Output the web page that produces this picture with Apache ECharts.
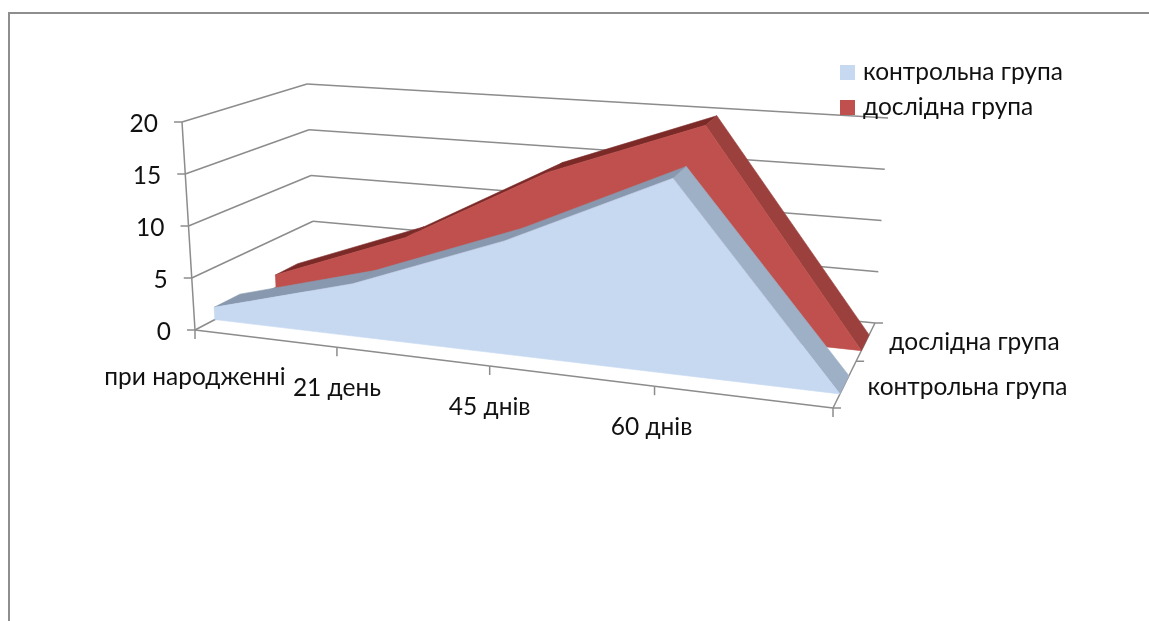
<!DOCTYPE html>
<html>
<head>
<meta charset="utf-8">
<script src="https://cdn.jsdelivr.net/npm/echarts@6/dist/echarts.min.js"></script>
<style>html,body{margin:0;padding:0;background:#fff}#c{width:1149px;height:621px}</style>
</head>
<body>
<div id="c"></div>
<script>
// Chart content
const categories = ['при народженні', '21 день', '45 днів', '60 днів', ''];
const seriesNames = ['контрольна група', 'дослідна група'];
const controlValues = [1.2, 5, 10.5, 17.6, 0];
const testValues = [1.3, 6.5, 14.3, 20, 0];
const valueTicks = [0, 5, 10, 15, 20];

// Box corners of the 3D scene in pixels, floor and ceiling
const FLOOR = { fl: [195, 330], fr: [833, 408], bl: [315, 267], br: [875, 323] };
const ROOF = { fl: [182, 122], fr: [851, 175], bl: [307, 84], br: [888, 118] };
const FORESHORTEN = 1.165;

const FONT = 'Lato, "Noto Sans", sans-serif';
const FONT_SIZE = 24.5;
const AXIS_COLOR = '#8c8c8c';
const TEXT_COLOR = '#111';

const lerp = (a, b, t) => [a[0] + (b[0] - a[0]) * t, a[1] + (b[1] - a[1]) * t];

// Perspective projection: x, y are fractions of the plot, d is the depth fraction
function project(x, y, d) {
  const u = x / (x + FORESHORTEN * (1 - x));
  const bottom = lerp(lerp(FLOOR.fl, FLOOR.fr, u), lerp(FLOOR.bl, FLOOR.br, u), d);
  const top = lerp(lerp(ROOF.fl, ROOF.fr, u), lerp(ROOF.bl, ROOF.br, u), d);
  return lerp(bottom, top, y);
}

// Turns a category/value pair into plot fractions through the hidden cartesian axes
function fractions(api, params, cat, val) {
  const p = api.coord([cat, val]);
  const cs = params.coordSys;
  return [(p[0] - cs.x) / cs.width, (cs.y + cs.height - p[1]) / cs.height];
}

function poly(points, fill) {
  return {
    type: 'polygon',
    shape: { points },
    style: { fill, stroke: fill, lineWidth: 0.6 }
  };
}
function line(a, b) {
  return {
    type: 'line',
    shape: { x1: a[0], y1: a[1], x2: b[0], y2: b[1] },
    style: { stroke: AXIS_COLOR, lineWidth: 1.5 }
  };
}
function label(text, pos, align) {
  return {
    type: 'text',
    style: {
      text, x: pos[0], y: pos[1], align, verticalAlign: 'middle',
      font: FONT_SIZE + 'px ' + FONT, fill: TEXT_COLOR
    }
  };
}

// One ribbon of the area chart: the top faces segment by segment, then the front face over them
function ribbon(values, nearD, farD, colors) {
  return function (params, api) {
    const i = params.dataIndex;
    if (i === values.length - 1) {
      const tops = values.map(function (v, k) {
        const f = fractions(api, params, k, v);
        return project(f[0], f[1], nearD);
      });
      const first = fractions(api, params, 0, 0);
      const last = fractions(api, params, values.length - 1, 0);
      return poly(
        [project(first[0], first[1], nearD)].concat(tops, [project(last[0], last[1], nearD)]),
        colors.front
      );
    }
    const a = fractions(api, params, i, values[i]);
    const b = fractions(api, params, i + 1, values[i + 1]);
    const falling = values[i + 1] < values[i];
    return poly([
      project(a[0], a[1], nearD), project(b[0], b[1], nearD),
      project(b[0], b[1], farD), project(a[0], a[1], farD)
    ], falling ? colors.fall : colors.rise);
  };
}

// Side wall and back wall grid lines with the value scale
function renderValueTick(params, api) {
  const v = valueTicks[params.dataIndex];
  const f = fractions(api, params, 0, v);
  const r = fractions(api, params, categories.length - 1, v);
  const a = project(f[0], f[1], 0);
  const b = project(f[0], f[1], 1);
  const c = project(r[0], r[1], 1);
  const children = [line([a[0] - 8, a[1]], a), line(a, b), line(b, c)];
  children.push(label(String(v), [a[0] - 24, a[1] + 2], 'right'));
  if (params.dataIndex > 0) {
    const f0 = fractions(api, params, 0, valueTicks[params.dataIndex - 1]);
    children.push(line(project(f0[0], f0[1], 0), a));
  }
  return { type: 'group', children };
}

// Floor front edge with category ticks and labels
function renderCategoryTick(params, api) {
  const i = params.dataIndex;
  const f = fractions(api, params, i, 0);
  const a = project(f[0], f[1], 0);
  const children = [line(a, [a[0], a[1] + 9])];
  if (i < categories.length - 1) {
    const n = fractions(api, params, i + 1, 0);
    children.push(line(a, project(n[0], n[1], 0)));
  }
  if (categories[i]) {
    children.push(label(categories[i], [a[0] - (i === 3 ? 3 : 0), a[1] + (i === 0 ? 47 : 41)], 'center'));
  }
  return { type: 'group', children };
}

// Depth axis on the right of the floor
const depthTicks = [0, 0.55, 1];
const depthLabels = [[0, 0.25], [1, 0.77]];
function renderDepthAxis(params, api) {
  const f = fractions(api, params, categories.length - 1, 0);
  const children = [line(project(f[0], f[1], 0), project(f[0], f[1], 1))];
  depthTicks.forEach(function (d) {
    const p = project(f[0], f[1], d);
    children.push(line(p, [p[0] + 8, p[1]]));
  });
  depthLabels.forEach(function (entry) {
    const p = project(f[0], f[1], entry[1]);
    children.push(label(seriesNames[entry[0]], [p[0] + 24, p[1]], 'left'));
  });
  return { type: 'group', children };
}

const chart = echarts.init(document.getElementById('c'), null, { renderer: 'canvas' });
chart.setOption({
  animation: false,
  backgroundColor: '#fff',
  grid: { left: 100, top: 100, width: 400, height: 200, show: false },
  xAxis: { type: 'category', data: categories, boundaryGap: false, show: false },
  yAxis: { type: 'value', min: 0, max: 20, interval: 5, show: false },
  legend: {
    data: seriesNames,
    left: 840,
    top: 60,
    padding: 0,
    orient: 'vertical',
    itemWidth: 15,
    itemHeight: 15,
    itemGap: 10,
    icon: 'rect',
    selectedMode: false,
    textStyle: { fontFamily: FONT, fontSize: FONT_SIZE, color: TEXT_COLOR, padding: [0, 0, 0, 3] }
  },
  graphic: [{
    type: 'rect',
    silent: true,
    shape: { x: 9, y: 13, width: 1400, height: 900 },
    style: { fill: 'none', stroke: '#8e8e8e', lineWidth: 2 }
  }],
  series: [
    { type: 'custom', coordinateSystem: 'cartesian2d', silent: true, z: 1, renderItem: renderValueTick,
      encode: { x: 0, y: 1 }, data: valueTicks.map(function (v) { return [0, v]; }) },
    { type: 'custom', coordinateSystem: 'cartesian2d', silent: true, z: 1, renderItem: renderCategoryTick,
      encode: { x: 0, y: 1 }, data: categories.map(function (c, i) { return [i, 0]; }) },
    { type: 'custom', coordinateSystem: 'cartesian2d', silent: true, z: 1, renderItem: renderDepthAxis,
      encode: { x: 0, y: 1 }, data: [[categories.length - 1, 0]] },
    { name: seriesNames[1], type: 'custom', coordinateSystem: 'cartesian2d', silent: true, z: 2,
      itemStyle: { color: '#C0504D' }, encode: { x: 0, y: 1 },
      renderItem: ribbon(testValues, 0.675, 0.86, { front: '#C0504D', rise: '#7B2A28', fall: '#9C403D' }),
      data: testValues.map(function (v, i) { return [i, v]; }) },
    { name: seriesNames[0], type: 'custom', coordinateSystem: 'cartesian2d', silent: true, z: 3,
      itemStyle: { color: '#C6D9F1' }, encode: { x: 0, y: 1 },
      renderItem: ribbon(controlValues, 0.165, 0.38, { front: '#C6D9F1', rise: '#8898AE', fall: '#9DB0C6' }),
      data: controlValues.map(function (v, i) { return [i, v]; }) }
  ]
});
</script>
</body>
</html>
